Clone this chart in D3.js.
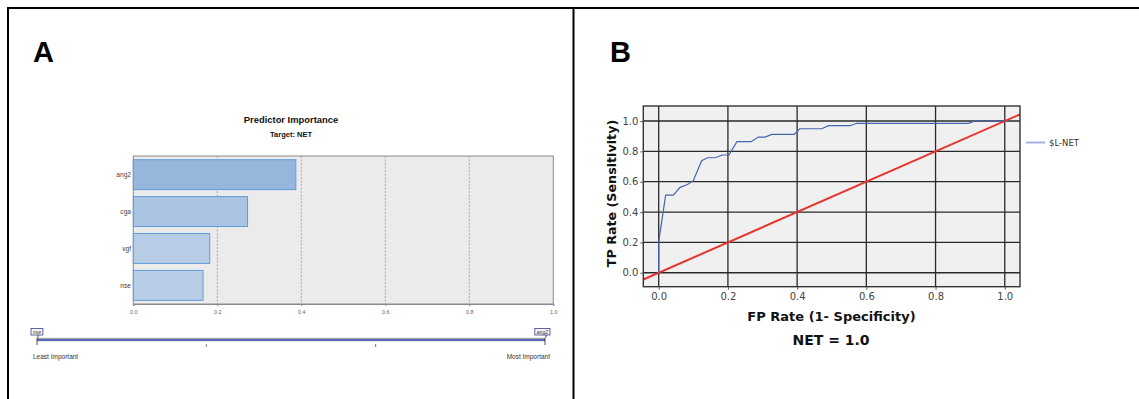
<!DOCTYPE html>
<html>
<head>
<meta charset="utf-8">
<script src="https://cdn.jsdelivr.net/npm/d3@7"></script>
<style>
  body { margin: 0; background: #fff; }
  svg { display: block; font-family: "DejaVu Sans", Verdana, sans-serif; }
  .pa text { font-family: "Liberation Sans", Arial, sans-serif; }
</style>
</head>
<body>
<div id="chart"></div>
<script>
// panel A: predictor importance
var predictors = ["ang2", "cga", "vgf", "nse"];
var importance = [0.387, 0.272, 0.182, 0.166];
var barFills = ["#96b6dc", "#aac4e1", "#b7cde5", "#b7cde5"];
var impTicks = [0, 0.2, 0.4, 0.6, 0.8, 1.0];

// panel B: ROC curve
var rocFpr = [0, 0, 0.020, 0.042, 0.062, 0.083, 0.100, 0.124, 0.141, 0.163, 0.184, 0.203, 0.226, 0.267, 0.288, 0.307, 0.327, 0.391, 0.408, 0.471, 0.491, 0.553, 0.572, 0.895, 0.914, 1.0];
var rocTpr = [0, 0.204, 0.512, 0.512, 0.563, 0.582, 0.607, 0.738, 0.758, 0.758, 0.776, 0.776, 0.864, 0.864, 0.894, 0.894, 0.912, 0.912, 0.949, 0.949, 0.969, 0.969, 0.985, 0.985, 1.0, 1.0];
var rocTicks = [0, 0.2, 0.4, 0.6, 0.8, 1.0];

var W = 1139, H = 399;
var svg = d3.select("#chart").append("svg")
    .attr("width", W)
    .attr("height", H);

// frame
svg.append("path")
    .attr("d", "M8,399V8H1139M573.5,8V399")
    .attr("fill", "none")
    .attr("stroke", "#000")
    .attr("stroke-width", 2);

svg.append("text").attr("x", 33).attr("y", 62)
    .style("font-family", "Liberation Sans, Arial, sans-serif")
    .style("font-weight", "bold").style("font-size", "29px").text("A");
svg.append("text").attr("x", 610).attr("y", 62)
    .style("font-family", "Liberation Sans, Arial, sans-serif")
    .style("font-weight", "bold").style("font-size", "29px").text("B");

// ---------- panel A ----------
var ax = d3.scaleLinear().domain([0, 1]).range([133.3, 553.3]);
var ay = d3.scaleBand().domain(predictors).range([156, 304])
    .paddingInner(0.19).paddingOuter(0.1);

var gA = svg.append("g").attr("class", "pa");

gA.append("text").attr("x", 291).attr("y", 123)
    .attr("text-anchor", "middle")
    .style("font-weight", "bold").style("font-size", "9.4px").style("fill", "#111")
    .text("Predictor Importance");
gA.append("text").attr("x", 291).attr("y", 136.5)
    .attr("text-anchor", "middle")
    .style("font-weight", "bold").style("font-size", "7.5px").style("fill", "#111")
    .text("Target: NET");

gA.append("rect")
    .attr("x", ax(0)).attr("y", 156)
    .attr("width", ax(1) - ax(0)).attr("height", 148)
    .attr("fill", "#ebebeb")
    .attr("stroke", "#8a8a8a").attr("stroke-width", 1);

gA.selectAll(".agrid")
  .data(impTicks.slice(1, 5))
  .enter().append("line")
    .attr("x1", d => ax(d)).attr("x2", d => ax(d))
    .attr("y1", 156).attr("y2", 304)
    .attr("stroke", "#9a9a9a")
    .attr("stroke-width", 0.8)
    .attr("stroke-dasharray", "2,1.5");

gA.selectAll(".bar")
  .data(predictors)
  .enter().append("rect")
    .attr("x", ax(0))
    .attr("y", d => ay(d))
    .attr("width", (d, i) => ax(importance[i]) - ax(0))
    .attr("height", ay.bandwidth())
    .attr("fill", (d, i) => barFills[i])
    .attr("stroke", "#5f9bd9")
    .attr("stroke-width", 1);

gA.selectAll(".clab")
  .data(predictors)
  .enter().append("text")
    .attr("x", 131)
    .attr("y", d => ay(d) + ay.bandwidth() / 2 + 2.3)
    .attr("text-anchor", "end")
    .style("font-size", "6.6px").style("fill", "#444")
    .text(d => d);

var axA = gA.append("g")
    .attr("transform", "translate(0,304)")
    .call(d3.axisBottom(ax).tickValues(impTicks).tickSize(2).tickFormat(d3.format(".1f")));
axA.select(".domain").attr("stroke", "#8a8a8a");
axA.selectAll(".tick line").attr("stroke", "#8a8a8a");
axA.selectAll("text").style("font-size", "5.4px").style("fill", "#666")
    .attr("y", 6);

// importance scale strip
var sx = d3.scaleLinear().domain([0, 1]).range([37, 545]);
gA.append("line")
    .attr("x1", sx(0)).attr("x2", sx(1)).attr("y1", 339.5).attr("y2", 339.5)
    .attr("stroke", "#aaa").attr("stroke-width", 3.5);
gA.append("line")
    .attr("x1", sx(0)).attr("x2", sx(1)).attr("y1", 340).attr("y2", 340)
    .attr("stroke", "#3b50b8").attr("stroke-width", 1.6);
gA.selectAll(".stick")
  .data([1 / 3, 2 / 3])
  .enter().append("line")
    .attr("x1", d => sx(d)).attr("x2", d => sx(d))
    .attr("y1", 344).attr("y2", 347)
    .attr("stroke", "#555").attr("stroke-width", 0.8);

var ends = [
  {name: predictors[predictors.length - 1], v: 0},
  {name: predictors[0], v: 1}
];
ends.forEach(function(e) {
  var cx = sx(e.v);
  var bw = e.name.length * 3.3 + 2;
  var bx = e.v === 0 ? cx - 6 : cx + 5 - bw;
  gA.append("rect")
      .attr("x", bx).attr("y", 328.5).attr("width", bw).attr("height", 6.5)
      .attr("fill", "#f4f4f8").attr("stroke", "#3b3f8f").attr("stroke-width", 0.8);
  gA.append("text")
      .attr("x", bx + bw / 2).attr("y", 333.5)
      .attr("text-anchor", "middle")
      .style("font-size", "5px").style("font-style", "italic").style("fill", "#333")
      .text(e.name);
  gA.append("path")
      .attr("d", "M" + (cx + 1) + ",335 C" + (cx + 2) + ",338 " + (cx - 1) + ",338 " + (cx) + ",340 L" + (cx) + ",345")
      .attr("fill", "none").attr("stroke", "#222").attr("stroke-width", 0.8);
});
gA.append("text").attr("x", 33).attr("y", 358.5)
    .style("font-size", "6.5px").style("fill", "#333").text("Least Important");
gA.append("text").attr("x", 550).attr("y", 358.5)
    .attr("text-anchor", "end")
    .style("font-size", "6.5px").style("fill", "#333").text("Most Important");

// ---------- panel B ----------
var bx = d3.scaleLinear().domain([-0.0445, 1.044]).range([643.3, 1020]);
var by = d3.scaleLinear().domain([-0.092, 1.099]).range([286.7, 106]);
var gB = svg.append("g");

gB.append("defs").append("clipPath").attr("id", "clipB")
  .append("rect")
    .attr("x", bx.range()[0]).attr("y", by.range()[1])
    .attr("width", bx.range()[1] - bx.range()[0])
    .attr("height", by.range()[0] - by.range()[1]);

gB.append("rect")
    .attr("x", bx.range()[0]).attr("y", by.range()[1])
    .attr("width", bx.range()[1] - bx.range()[0])
    .attr("height", by.range()[0] - by.range()[1])
    .attr("fill", "#f0f0f0");

gB.selectAll(".vgrid")
  .data(rocTicks)
  .enter().append("line")
    .attr("x1", d => bx(d)).attr("x2", d => bx(d))
    .attr("y1", by.range()[1]).attr("y2", by.range()[0])
    .attr("stroke", "#2a2a2a").attr("stroke-width", 1.3);
gB.selectAll(".hgrid")
  .data(rocTicks)
  .enter().append("line")
    .attr("x1", bx.range()[0]).attr("x2", bx.range()[1])
    .attr("y1", d => by(d)).attr("y2", d => by(d))
    .attr("stroke", "#2a2a2a").attr("stroke-width", 1.3);

// reference diagonal
gB.append("path")
    .datum(bx.domain())
    .attr("clip-path", "url(#clipB)")
    .attr("fill", "none")
    .attr("stroke", "#e8342c")
    .attr("stroke-width", 2)
    .attr("d", d3.line().x(d => bx(d)).y(d => by(d)));

// ROC curve
gB.append("path")
    .datum(rocFpr.map((f, i) => [f, rocTpr[i]]))
    .attr("fill", "none")
    .attr("stroke", "#4565b3")
    .attr("stroke-width", 1.2)
    .attr("d", d3.line().x(d => bx(d[0])).y(d => by(d[1])));

gB.append("rect")
    .attr("x", bx.range()[0]).attr("y", by.range()[1])
    .attr("width", bx.range()[1] - bx.range()[0])
    .attr("height", by.range()[0] - by.range()[1])
    .attr("fill", "none")
    .attr("stroke", "#333").attr("stroke-width", 1.4);

var axBx = gB.append("g")
    .attr("transform", "translate(0," + by.range()[0] + ")")
    .call(d3.axisBottom(bx).tickValues(rocTicks).tickSize(3).tickFormat(d3.format(".1f")));
axBx.select(".domain").remove();
axBx.selectAll(".tick line").attr("stroke", "#555");
axBx.selectAll("text").style("font-size", "10px").style("fill", "#444")
    .style("font-family", "DejaVu Sans, sans-serif").attr("y", 6);

var axBy = gB.append("g")
    .attr("transform", "translate(" + bx.range()[0] + ",0)")
    .call(d3.axisLeft(by).tickValues(rocTicks).tickSize(3).tickFormat(d3.format(".1f")));
axBy.select(".domain").remove();
axBy.selectAll(".tick line").attr("stroke", "#555");
axBy.selectAll("text").style("font-size", "10px").style("fill", "#444")
    .style("font-family", "DejaVu Sans, sans-serif").attr("x", -5);

gB.append("text")
    .attr("x", 831.5).attr("y", 320.5)
    .attr("text-anchor", "middle")
    .style("font-weight", "bold").style("font-size", "13px").style("fill", "#111")
    .text("FP Rate (1- Specificity)");
gB.append("text")
    .attr("x", 831).attr("y", 345)
    .attr("text-anchor", "middle")
    .style("font-weight", "bold").style("font-size", "14px").style("fill", "#111")
    .text("NET = 1.0");
gB.append("text")
    .attr("transform", "translate(616,193.5) rotate(-90)")
    .attr("text-anchor", "middle")
    .style("font-weight", "bold").style("font-size", "12.7px").style("fill", "#111")
    .text("TP Rate (Sensitivity)");

// legend
gB.append("line")
    .attr("x1", 1026).attr("x2", 1045).attr("y1", 142.5).attr("y2", 142.5)
    .attr("stroke", "#9fb3de").attr("stroke-width", 2);
gB.append("text")
    .attr("x", 1049).attr("y", 145.5)
    .style("font-size", "8.5px").style("fill", "#333")
    .text("$L-NET");
</script>
</body>
</html>
